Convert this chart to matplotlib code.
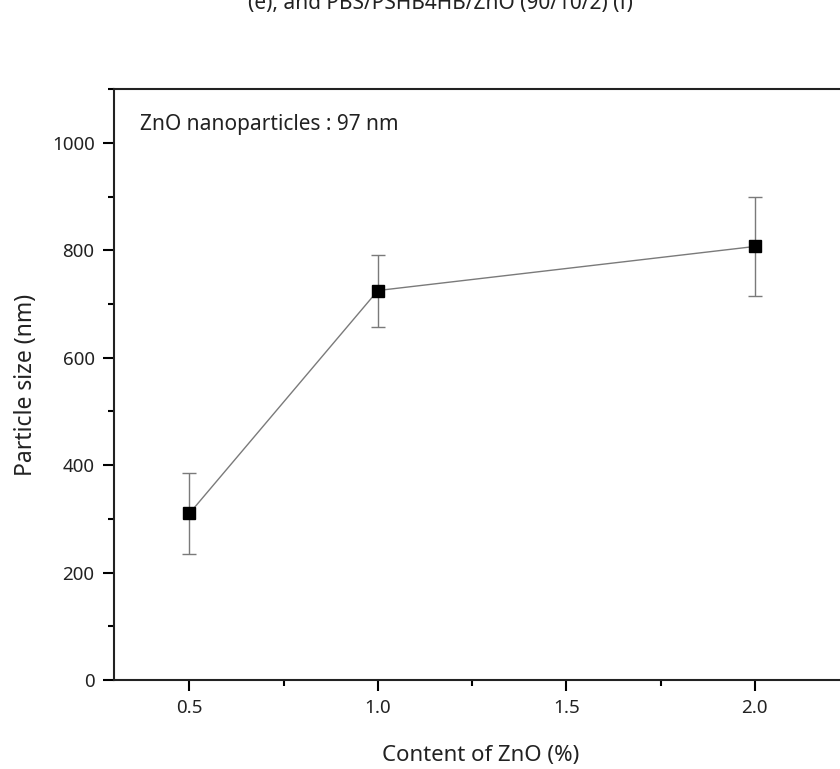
import numpy as np
import matplotlib.pyplot as plt
from matplotlib.ticker import MultipleLocator

plt.rcParams['font.family'] = ['Noto Sans', 'DejaVu Sans']

# Data
zno_content = [0.5, 1.0, 2.0]
particle_size = [310, 725, 807]
size_error = [75, 67, 93]

caption = "(e), and PBS/PSHB4HB/ZnO (90/10/2) (f)"
note = "ZnO nanoparticles : 97 nm"

fig = plt.figure(figsize=(8.4, 7.69), dpi=100)

# Axes runs off the right edge, as in the cropped original
ax = fig.add_axes([0.1357, 0.1157, 0.8976, 0.7685])

# Line, error bars and markers
ax.errorbar(zno_content, particle_size, yerr=size_error,
            fmt='none', ecolor='#7a7a7a', elinewidth=1.0,
            capsize=5, capthick=1.0, zorder=2)
ax.plot(zno_content, particle_size, '-', color='#7a7a7a', linewidth=1.0, zorder=2)
ax.plot(zno_content, particle_size, 's', color='black',
        markersize=9, zorder=3)

ax.set_xlim(0.3, 2.3)
ax.set_ylim(0, 1100)

ax.xaxis.set_major_locator(MultipleLocator(0.5))
ax.xaxis.set_minor_locator(MultipleLocator(0.25))
ax.yaxis.set_major_locator(MultipleLocator(200))
ax.yaxis.set_minor_locator(MultipleLocator(100))
ax.set_xticks([0.5, 1.0, 1.5, 2.0])
ax.set_xticklabels(['0.5', '1.0', '1.5', '2.0'])

ax.tick_params(which='major', direction='out', length=8, width=1.5,
               labelsize=13.5, colors='black', labelcolor='#222222', pad=6)
ax.tick_params(which='minor', direction='out', length=4, width=1.5)
ax.tick_params(top=False, right=False, which='both')

for side in ['left', 'bottom', 'top', 'right']:
    ax.spines[side].set_linewidth(1.5)
    ax.spines[side].set_color('#222222')

ax.set_ylabel('Particle size (nm)', fontsize=16.5, labelpad=10, color='#222222')
ax.set_xlabel('Content of ZnO (%)', fontsize=16, labelpad=20, color='#222222')
ax.xaxis.set_label_coords(367 / 754, -0.11)

ax.text(140 / 840, 1 - 130 / 769, note, transform=fig.transFigure,
        fontsize=15, ha='left', va='baseline', color='#222222')

# Cropped caption at the very top
fig.text(440 / 840, 1 - 9 / 769, caption, fontsize=15,
         ha='center', va='baseline', color='#222222')

fig.savefig('out.png', dpi=100, facecolor='white')
